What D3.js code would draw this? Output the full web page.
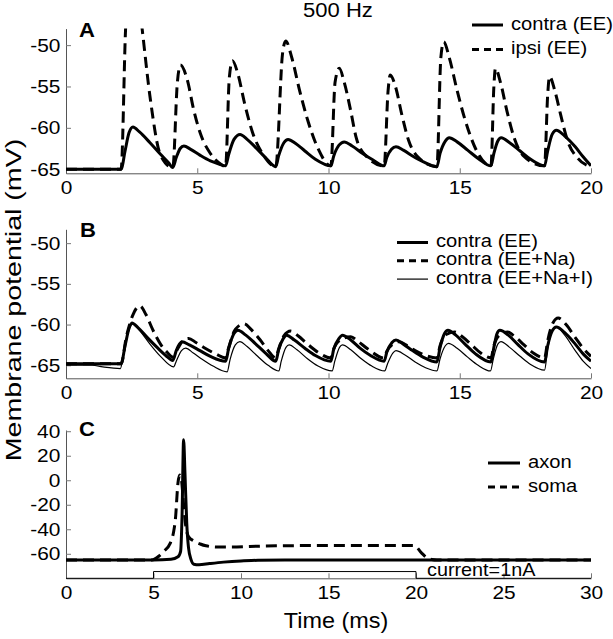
<!DOCTYPE html>
<html>
<head>
<meta charset="utf-8">
<script src="https://cdn.jsdelivr.net/npm/d3@7"></script>
<style>
body { margin: 0; background: #fff; }
text { font-family: "Liberation Sans", Arial, Helvetica, sans-serif; fill: #000; }
</style>
</head>
<body>
<div id="chart"></div>
<script>
// ---- data: [time (ms), membrane potential (mV)] ----
var contraA = [[0,-65],[2.1,-65],
  [2.25,-62.8],[2.4,-60.6],[2.55,-59.9],[2.8,-60.5],[3.2,-61.8],[3.6,-63.2],[3.9,-64.2],[4.07,-64.8],
  [4.2,-63.6],[4.35,-62.5],[4.49,-62.2],[4.75,-62.6],[5.1,-63.3],[5.5,-64.0],[5.85,-64.4],[6.08,-64.6],
  [6.2,-63.2],[6.4,-61.4],[6.63,-60.8],[6.9,-61.4],[7.2,-62.3],[7.6,-63.6],[7.99,-64.7],
  [8.1,-63.4],[8.3,-61.8],[8.46,-61.4],[8.75,-61.9],[9.1,-62.8],[9.5,-63.8],[10.09,-64.6],
  [10.2,-63.4],[10.4,-62.1],[10.6,-61.7],[10.9,-62.2],[11.3,-63.1],[11.7,-63.9],[12.12,-64.6],
  [12.22,-63.6],[12.4,-62.6],[12.57,-62.3],[12.85,-62.7],[13.2,-63.4],[13.6,-64.1],[14.13,-64.7],
  [14.25,-63.1],[14.45,-61.6],[14.6,-61.2],[14.9,-61.7],[15.3,-62.7],[15.7,-63.7],[16.19,-64.6],
  [16.3,-63.1],[16.45,-61.6],[16.58,-61.2],[16.9,-61.8],[17.3,-62.8],[17.7,-63.8],[18.23,-64.6],
  [18.35,-62.8],[18.52,-60.8],[18.68,-60.3],[19.0,-61.0],[19.4,-62.3],[19.7,-63.5],[20,-64.6]];

var ipsiA = [[0,-65],[2.1,-65],[2.27,-48],[2.55,-38],[2.9,-48],[3.22,-56.7],[3.6,-63.3],[4.07,-64.8],
  [4.24,-54.6],[4.36,-52.4],[4.62,-54.2],[4.87,-57.9],[5.12,-60.7],[5.5,-63.1],[5.9,-64.4],[6.08,-64.7],
  [6.22,-54],[6.34,-51.9],[6.55,-53.5],[6.8,-57],[7.1,-60.5],[7.5,-63.2],[7.99,-64.7],
  [8.25,-51],[8.37,-49.5],[8.6,-51.5],[8.9,-55.5],[9.2,-59],[9.6,-62.5],[10.09,-64.6],
  [10.25,-54.5],[10.41,-52.8],[10.6,-54.5],[10.85,-58],[11.04,-61],[11.4,-63.3],[12.12,-64.6],
  [12.27,-55.5],[12.35,-53.6],[12.55,-55],[12.8,-58.5],[13.05,-61.5],[13.4,-63.5],[14.13,-64.7],
  [14.28,-51.5],[14.39,-49.6],[14.6,-51.5],[14.9,-55.5],[15.2,-59],[15.6,-62.5],[16.19,-64.6],
  [16.3,-55],[16.36,-52.8],[16.55,-54.5],[16.8,-58],[17.05,-61],[17.4,-63.3],[18.23,-64.6],
  [18.35,-56],[18.42,-53.8],[18.62,-55.5],[18.85,-58.5],[19.1,-61.5],[19.5,-63.7],[20,-64.7]];

var contraB = [[0,-64.8],[2.1,-64.8],
  [2.25,-62.6],[2.4,-60.5],[2.51,-59.8],[2.75,-60.4],[3.1,-61.6],[3.5,-62.9],[3.8,-63.8],[4.07,-64.4],
  [4.2,-63.2],[4.32,-62.4],[4.42,-62.1],[4.7,-62.5],[5.1,-63.2],[5.5,-63.9],[6.08,-64.5],
  [6.2,-62.9],[6.4,-61.1],[6.55,-60.7],[6.85,-61.3],[7.2,-62.3],[7.6,-63.5],[7.99,-64.5],
  [8.1,-63.1],[8.28,-61.7],[8.4,-61.3],[8.7,-61.9],[9.1,-62.9],[9.5,-63.8],[10.09,-64.5],
  [10.2,-63.0],[10.4,-61.7],[10.53,-61.3],[10.85,-61.9],[11.2,-62.9],[11.6,-63.8],[12.12,-64.5],
  [12.22,-63.4],[12.42,-62.2],[12.57,-61.9],[12.85,-62.4],[13.2,-63.2],[13.6,-64.0],[14.13,-64.6],
  [14.25,-62.8],[14.42,-61.1],[14.55,-60.7],[14.85,-61.3],[15.2,-62.4],[15.6,-63.6],[16.19,-64.6],
  [16.3,-62.8],[16.42,-61.1],[16.53,-60.7],[16.85,-61.3],[17.2,-62.4],[17.6,-63.6],[18.23,-64.6],
  [18.35,-62.6],[18.52,-60.8],[18.68,-60.3],[19.0,-61.0],[19.4,-62.4],[19.7,-63.6],[20,-64.5]];

var contraNaB = [[0,-64.8],[2.1,-64.8],
  [2.3,-61.5],[2.55,-58.8],[2.81,-57.7],[3.05,-58.8],[3.3,-60.6],[3.6,-62.4],[3.85,-63.4],[4.08,-64.0],
  [4.25,-63.0],[4.45,-62.0],[4.67,-61.7],[4.95,-62.2],[5.3,-62.9],[5.7,-63.6],[6.08,-64.1],
  [6.2,-62.8],[6.45,-60.6],[6.78,-59.9],[7.05,-60.6],[7.4,-61.9],[7.7,-63.2],[7.99,-64.1],
  [8.1,-63.0],[8.3,-61.4],[8.56,-60.8],[8.85,-61.4],[9.2,-62.4],[9.6,-63.4],[10.09,-64.1],
  [10.2,-63.0],[10.45,-61.9],[10.85,-61.5],[11.1,-62.0],[11.5,-63.0],[12.12,-64.1],
  [12.22,-63.3],[12.45,-62.4],[12.69,-62.1],[12.95,-62.5],[13.3,-63.2],[13.7,-63.8],[14.13,-64.1],
  [14.25,-62.6],[14.5,-61.2],[14.8,-60.9],[15.1,-61.5],[15.45,-62.5],[15.8,-63.5],[16.19,-64.1],
  [16.3,-62.6],[16.55,-61.2],[16.83,-60.9],[17.1,-61.5],[17.45,-62.5],[17.8,-63.5],[18.23,-64.1],
  [18.35,-62.0],[18.55,-59.8],[18.75,-59.2],[19.05,-60.0],[19.4,-61.6],[19.7,-62.9],[20,-63.9]];

var contraNaIB = [[0,-65],[1.0,-65],[1.4,-65.2],[2.07,-65.4],
  [2.2,-63.5],[2.4,-60.6],[2.57,-59.9],[2.8,-60.7],[3.2,-62.4],[3.6,-63.9],[4.1,-65.2],
  [4.2,-64.5],[4.4,-63.2],[4.56,-62.9],[4.85,-63.5],[5.2,-64.3],[5.6,-65.1],[6.14,-65.8],
  [6.25,-64.3],[6.45,-62.5],[6.62,-62.1],[6.9,-62.7],[7.3,-63.9],[7.7,-65.0],[8.11,-65.7],
  [8.2,-64.5],[8.38,-62.8],[8.5,-62.5],[8.8,-63.1],[9.2,-64.2],[9.6,-65.1],[10.14,-65.7],
  [10.24,-64.5],[10.42,-62.8],[10.53,-62.5],[10.85,-63.1],[11.25,-64.2],[11.65,-65.1],[12.14,-65.7],
  [12.25,-64.8],[12.45,-63.5],[12.57,-63.2],[12.9,-63.7],[13.3,-64.6],[13.7,-65.3],[14.13,-65.7],
  [14.25,-64.2],[14.45,-62.6],[14.57,-62.3],[14.9,-62.9],[15.3,-64.0],[15.7,-65.0],[16.17,-65.7],
  [16.28,-64.2],[16.45,-62.4],[16.57,-62.1],[16.9,-62.8],[17.3,-63.9],[17.7,-64.9],[18.23,-65.6],
  [18.35,-63.0],[18.52,-60.8],[18.68,-60.3],[19.0,-61.3],[19.4,-63.2],[19.7,-64.5],[20,-65.4]];

var axonC = [[0,-65],[5,-65],[6.0,-64.5],[6.4,-62.5],[6.55,-58],[6.63,-30],[6.72,33],[6.8,5],[6.9,-35],
  [7.0,-55],[7.15,-65],[7.3,-68.5],[7.6,-69],[8.2,-68],[9,-66.8],[10,-65.8],[11,-65.3],[12.5,-65],[30,-65]];

var somaC = [[0,-65],[4.9,-65],[5.3,-62],[5.58,-58],[5.96,-51.3],[6.15,-42],[6.25,-32],[6.4,-2],[6.5,4.2],
  [6.6,0],[6.72,-20],[6.85,-38],[7.0,-46],[7.3,-49.5],[7.67,-52],[8.0,-53.5],[8.63,-54.5],[9.5,-54.5],
  [10.5,-54],[12,-53.5],[14,-53.3],[19.9,-53.3],[20.3,-59],[20.6,-63],[20.9,-64.6],[21.2,-65],[30,-65]];

// injected current step (nA)
var currentT = [0, 5, 5, 20, 20, 30];
var currentI = [0, 0, 1, 1, 0, 0];

var xTicksAB = [0, 5, 10, 15, 20];
var yTicksAB = [-65, -60, -55, -50];
var xTicksC = [0, 5, 10, 15, 20, 25, 30];
var yTicksC = [-60, -40, -20, 0, 20, 40];

var legendA = ["contra (EE)", "ipsi (EE)"];
var legendB = ["contra (EE)", "contra (EE+Na)", "contra (EE+Na+I)"];
var legendC = ["axon", "soma"];

// ---- drawing ----
var W = 613, H = 639;
var xLeft = 66, xRight = 591;
var svg = d3.select("#chart").append("svg")
    .attr("width", W)
    .attr("height", H);

var THICK = {w: 3, dash: null}, DASH = {w: 3, dash: "11,6"}, THIN = {w: 1.2, dash: null};

function addText(x, y, str, size, anchor, sx, weight, rot) {
  var t = "translate(" + x + "," + y + ")" + (rot ? " rotate(" + rot + ")" : "") + " scale(" + sx + ",1)";
  return svg.append("text")
      .attr("transform", t)
      .attr("font-size", size)
      .attr("font-weight", weight || "normal")
      .attr("text-anchor", anchor)
      .text(str);
}

function makePanel(id, xDomain, yDomain, top, bottom, xTicks, yTicks) {
  var x = d3.scaleLinear().domain(xDomain).range([xLeft, xRight]);
  var y = d3.scaleLinear().domain(yDomain).range([bottom, top]);

  svg.append("clipPath").attr("id", "clip" + id)
    .append("rect")
      .attr("x", xLeft).attr("y", top)
      .attr("width", xRight - xLeft).attr("height", bottom - top + 3);

  var xa = svg.append("g")
      .attr("transform", "translate(0," + bottom + ")")
      .call(d3.axisBottom(x).tickValues(xTicks).tickSize(-5).tickSizeOuter(0).tickPadding(8)
        .tickFormat(function(d) { return String(d); }));
  var ya = svg.append("g")
      .attr("transform", "translate(" + xLeft + ",0)")
      .call(d3.axisLeft(y).tickValues(yTicks).tickSize(-5).tickSizeOuter(0).tickPadding(5)
        .tickFormat(function(d) { return String(d); }));

  [xa, ya].forEach(function(a) {
    a.attr("font-family", null).attr("font-size", null);
    a.select(".domain").attr("stroke", "#555").attr("stroke-width", 1);
    a.selectAll(".tick line").attr("stroke", "#777").attr("stroke-width", 1);
    a.selectAll(".tick text")
      .attr("font-size", 18.5)
      .attr("fill", "#000")
      .attr("transform", "scale(1.13,1)");
  });
  return {id: id, x: x, y: y};
}

function drawSeries(p, data, st, clip) {
  var line = d3.line()
      .x(function(d) { return p.x(d[0]); })
      .y(function(d) { return p.y(d[1]); })
      .curve(d3.curveMonotoneX);
  var path = svg.append("path")
      .datum(data)
      .attr("fill", "none")
      .attr("stroke", "#000")
      .attr("stroke-width", st.w)
      .attr("stroke-linejoin", "round")
      .attr("d", line);
  if (st.dash) path.attr("stroke-dasharray", st.dash);
  if (clip !== false) path.attr("clip-path", "url(#clip" + p.id + ")");
}

function drawLegend(labels, styles, x0, y0, step, len) {
  labels.forEach(function(lab, i) {
    var yy = y0 + i * step;
    var l = svg.append("line")
        .attr("x1", x0).attr("x2", x0 + len)
        .attr("y1", yy).attr("y2", yy)
        .attr("stroke", "#000")
        .attr("stroke-width", styles[i].w);
    if (styles[i].dash) l.attr("stroke-dasharray", "7,5");
    addText(x0 + len + 8, yy + 4.6, lab, 18.5, "start", 1.09);
  });
}

// panel A
var pA = makePanel("A", [0, 20], [-65.5, -48], 28.6, 173.3, xTicksAB, yTicksAB);
drawSeries(pA, ipsiA, DASH);
drawSeries(pA, contraA, THICK);
drawLegend(legendA, [THICK, DASH], 472, 25, 24.5, 31);
addText(79, 37, "A", 21, "start", 1.05, "bold");
addText(338, 17, "500 Hz", 19.5, "middle", 1.13);

// panel B
var pB = makePanel("B", [0, 20], [-66.6, -48.3], 229.3, 378.3, xTicksAB, yTicksAB);
drawSeries(pB, contraNaIB, THIN);
drawSeries(pB, contraNaB, DASH);
drawSeries(pB, contraB, THICK);
drawLegend(legendB, [THICK, DASH, THIN], 397, 242.5, 18.3, 31);
addText(80, 237, "B", 21, "start", 1.05, "bold");

// panel C
var pC = makePanel("C", [0, 30], [-80, 41], 430, 578.3, xTicksC, yTicksC);
var iScale = d3.scaleLinear().domain([0, 1]).range([-80, -74.5]);
var currentData = currentT.map(function(t, i) { return [t, iScale(currentI[i])]; });
svg.append("path")
    .datum(currentData)
    .attr("fill", "none")
    .attr("stroke", "#000")
    .attr("stroke-width", 1)
    .attr("d", d3.line().x(function(d) { return pC.x(d[0]); }).y(function(d) { return pC.y(d[1]); }));
drawSeries(pC, somaC, DASH);
drawSeries(pC, axonC, THICK);
drawLegend(legendC, [THICK, DASH], 488, 463, 24, 32);
addText(79, 436, "C", 21, "start", 1.05, "bold");
addText(427, 576, "current=1nA", 18, "start", 1.1);

// axis titles
addText(21, 300, "Membrane potential (mV)", 22, "middle", 1.3, "normal", -90);
addText(336, 628, "Time (ms)", 22.5, "middle", 1.04);
</script>
</body>
</html>
